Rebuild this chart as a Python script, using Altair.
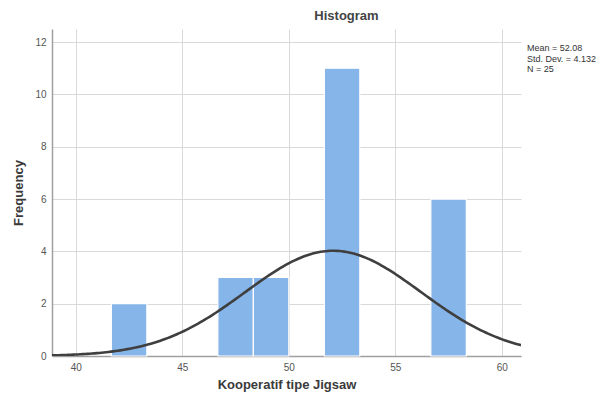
import altair as alt
import pandas as pd
import numpy as np

# Histogram data (bin width 5/3)
BIN_START = [41.6667, 46.6667, 48.3333, 51.6667, 56.6667]
BIN_END = [43.3333, 48.3333, 50.0, 53.3333, 58.3333]
COUNTS = [2, 3, 3, 11, 6]

MEAN = 52.08
SD = 4.132
N = 25
BIN_WIDTH = 5 / 3

X_TICKS = [40, 45, 50, 55, 60]
Y_TICKS = [0, 2, 4, 6, 8, 10, 12]
X_DOMAIN = [38.88, 60.9]
Y_DOMAIN = [0, 12.5]

STATS_LINES = [f"Mean = {MEAN:.2f}", f"Std. Dev. = {SD:.3f}", f"N = {N}"]

bars_df = pd.DataFrame({"start": BIN_START, "end": BIN_END, "count": COUNTS})

# Fitted normal curve from stated mean / sd / N
xs = np.linspace(X_DOMAIN[0], X_DOMAIN[1], 200)
ys = N * BIN_WIDTH * np.exp(-0.5 * ((xs - MEAN) / SD) ** 2) / (SD * np.sqrt(2 * np.pi))
curve_df = pd.DataFrame({"x": xs, "y": ys})

stats_df = pd.DataFrame({"text": STATS_LINES, "i": list(range(len(STATS_LINES)))})

FONT = "Liberation Sans"

xscale = alt.Scale(domain=X_DOMAIN, nice=False, zero=False)
yscale = alt.Scale(domain=Y_DOMAIN, nice=False)

bars = alt.Chart(bars_df).mark_rect(color="#86b5ea", stroke="white", strokeWidth=1.2).encode(
    x=alt.X("start:Q", scale=xscale,
            axis=alt.Axis(values=X_TICKS, title="Kooperatif tipe Jigsaw", titlePadding=6)),
    x2="end:Q",
    y=alt.Y("count:Q", scale=yscale,
            axis=alt.Axis(values=Y_TICKS, title="Frequency", titlePadding=9)),
    y2=alt.datum(0),
)

curve = alt.Chart(curve_df).mark_line(color="#3f3f3f", strokeWidth=2.6, clip=True).encode(
    x=alt.X("x:Q", scale=xscale),
    y=alt.Y("y:Q", scale=yscale),
)

stats = alt.Chart(stats_df).transform_calculate(
    py="19 + datum.i * 10.5"
).mark_text(
    align="left", baseline="middle", font=FONT, fontSize=9, color="#333333"
).encode(
    x=alt.value(475),
    y=alt.Y("py:Q", scale=None),
    text="text:N",
)

chart = alt.layer(bars, curve, stats).properties(
    width=469,
    height=327,
    autosize=alt.AutoSizeParams(type="none"),
    padding={"left": 44, "top": 21, "right": 78, "bottom": 38},
    title=alt.TitleParams("Histogram", font=FONT, fontSize=13, fontWeight="bold",
                          color="#444444", dx=60, offset=6),
).configure_view(stroke=None).configure_axis(
    labelFont=FONT, titleFont=FONT, labelFontSize=10, labelColor="#555555",
    titleFontSize=13, titleFontWeight="bold", titleColor="#3a3a3a",
    gridColor="#d9d9d9", gridWidth=1, domainColor="#a0a0a0", domainWidth=1.5,
    ticks=False, labelPadding=6,
)

chart.save("out.html", embed_options={"renderer": "svg", "actions": False})
